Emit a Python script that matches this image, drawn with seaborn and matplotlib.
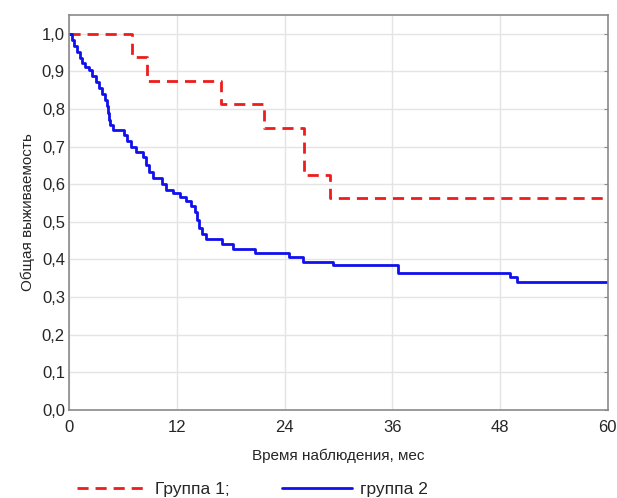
import numpy as np
import pandas as pd
import matplotlib
matplotlib.use("Agg")
import matplotlib.pyplot as plt
from matplotlib.ticker import FuncFormatter
import seaborn as sns

# Группа 1 (красная пунктирная линия)
g1_time = [0, 7.0, 8.7, 16.9, 21.7, 26.2, 29.1, 60]
g1_surv = [1.0, 0.9375, 0.875, 0.8125, 0.75, 0.625, 0.5625, 0.5625]

# группа 2 (синяя сплошная линия)
g2_time = [0, 0.3, 0.6, 0.9, 1.2, 1.4, 1.8, 2.2, 2.6, 3.0, 3.3, 3.7, 4.0, 4.2,
           4.3, 4.4, 4.6, 4.9, 6.1, 6.5, 6.9, 7.4, 8.2, 8.6, 8.9, 9.3, 10.4,
           10.8, 11.6, 12.3, 13.0, 13.6, 14.0, 14.2, 14.5, 14.8, 15.3, 17.0,
           18.3, 20.7, 24.5, 26.0, 29.4, 36.6, 49.1, 49.9, 60]
g2_surv = [1.0, 0.984, 0.968, 0.952, 0.936, 0.923, 0.912, 0.904, 0.888, 0.872,
           0.856, 0.840, 0.824, 0.809, 0.790, 0.771, 0.758, 0.745, 0.731, 0.715,
           0.699, 0.686, 0.673, 0.652, 0.633, 0.617, 0.601, 0.585, 0.577, 0.566,
           0.556, 0.543, 0.527, 0.505, 0.484, 0.468, 0.455, 0.441, 0.428, 0.418,
           0.407, 0.394, 0.386, 0.364, 0.354, 0.340, 0.340]

x_ticks = [0, 12, 24, 36, 48, 60]
y_ticks = [0.0, 0.1, 0.2, 0.3, 0.4, 0.5, 0.6, 0.7, 0.8, 0.9, 1.0]

df1 = pd.DataFrame({"t": g1_time, "s": g1_surv})
df2 = pd.DataFrame({"t": g2_time, "s": g2_surv})

sns.set_style("white")
plt.rcParams["font.family"] = ["Liberation Sans", "DejaVu Sans"]

fig = plt.figure(figsize=(6.17, 4.98), dpi=100)
ax = fig.add_axes([0.112, 0.177, 0.873, 0.793])

sns.lineplot(data=df1, x="t", y="s", ax=ax, estimator=None, sort=False,
             drawstyle="steps-post", color="#ee1c1c", linewidth=2,
             dashes=False, label="Группа 1;")
ax.lines[-1].set_dashes([4, 2.5])
sns.lineplot(data=df2, x="t", y="s", ax=ax, estimator=None, sort=False,
             drawstyle="steps-post", color="#1010ee", linewidth=2,
             label="группа 2")

ax.set_xlim(0, 60)
ax.set_ylim(0, 1.05)
ax.set_xticks(x_ticks)
ax.set_yticks(y_ticks)
ax.yaxis.set_major_formatter(FuncFormatter(lambda v, p: f"{v:.1f}".replace(".", ",")))
ax.grid(True, color="#e4e4e4", linewidth=1)
for sp in ax.spines.values():
    sp.set_color("#8a8a8a")
    sp.set_linewidth(1.2)
ax.tick_params(axis="both", labelsize=12, length=3, color="#8a8a8a",
               direction="in")
ax.tick_params(axis="x", pad=7)
ax.tick_params(axis="y", right=True, pad=3)
ax.set_xlabel("Время наблюдения, мес", fontsize=11, labelpad=10)
ax.set_ylabel("Общая выживаемость", fontsize=11, labelpad=5)

ax.get_legend().remove()
handles, labels = ax.get_legend_handles_labels()
fig.legend(handles, labels, loc="lower left", bbox_to_anchor=(0.1, -0.03),
           ncol=2, frameon=False, fontsize=12.5, handlelength=4.0,
           columnspacing=3.0, handletextpad=0.5)

fig.savefig("out.png", dpi=100)
